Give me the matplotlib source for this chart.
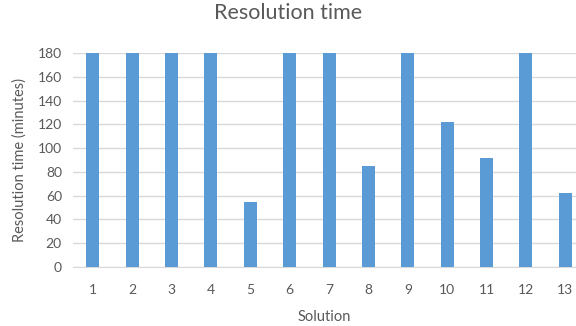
import matplotlib.pyplot as plt

solutions = [str(i) for i in range(1, 14)]
minutes = [180, 180, 180, 180, 55, 180, 180, 85, 180, 122, 92, 180, 62]
y_ticks = list(range(0, 181, 20))

plt.rcParams['font.family'] = ['Lato', 'DejaVu Sans']

fig = plt.figure(figsize=(5.76, 3.26), dpi=100)
ax = fig.add_axes([73 / 576, 1 - 267 / 326, 1 - 73 / 576, 214 / 326])

x = list(range(1, len(solutions) + 1))
ax.bar(x, minutes, width=0.33, color='#5B9BD5', zorder=3)

ax.set_xlim(0.5, 13.27)
ax.set_ylim(0, 180)
ax.set_yticks(y_ticks)
ax.set_xticks(x)
ax.set_xticklabels(solutions)
ax.grid(axis='y', color='#D9D9D9', linewidth=1, zorder=0)
ax.tick_params(axis='y', length=0, colors='#595959', labelsize=10, pad=8)
ax.tick_params(axis='x', length=0, colors='#595959', labelsize=10, pad=12)
for s in ['top', 'right', 'left']:
    ax.spines[s].set_visible(False)
ax.spines['bottom'].set_color('#D9D9D9')

ax.set_xlabel("Solution", color='#595959', fontsize=10.5, labelpad=10)
ax.set_ylabel("Resolution time (minutes)", color='#595959', fontsize=10.5, labelpad=8)
fig.suptitle("Resolution time", color='#595959', fontsize=15.5, y=0.99)

fig.savefig("out.png", dpi=100)
